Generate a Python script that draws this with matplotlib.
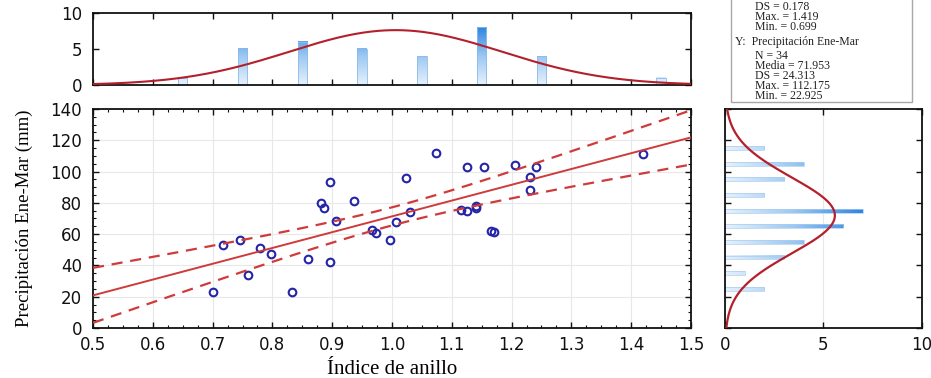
import matplotlib.pyplot as plt
import numpy as np
from matplotlib.colors import LinearSegmentedColormap
from matplotlib.patches import Rectangle
from matplotlib.ticker import MultipleLocator

# Scatter data: ring index vs Jan-Mar precipitation
indice = np.array([0.700, 0.717, 0.746, 0.760, 0.780, 0.797, 0.833, 0.860,
                   0.881, 0.887, 0.896, 0.896, 0.906, 0.937, 0.967, 0.974,
                   0.997, 1.006, 1.023, 1.030, 1.074, 1.116, 1.126, 1.126,
                   1.140, 1.140, 1.154, 1.166, 1.171, 1.205, 1.231, 1.231,
                   1.240, 1.419])
precip = np.array([22.9, 52.9, 56.0, 34.0, 51.4, 47.4, 23.0, 44.2,
                   79.7, 76.5, 93.3, 41.9, 68.7, 81.4, 62.4, 60.7,
                   56.0, 67.9, 95.6, 74.2, 112.1, 75.7, 102.6, 74.9,
                   78.0, 76.5, 102.6, 62.2, 61.5, 104.3, 96.4, 88.4,
                   102.6, 111.2])

# Marginal histograms (bin centres and counts)
x_bins = [0.65, 0.75, 0.85, 0.95, 1.05, 1.15, 1.25, 1.45]
x_counts = [1, 5, 6, 5, 4, 8, 4, 1]
y_bins = [25, 35, 45, 55, 65, 75, 85, 95, 105, 115]
y_counts = [2, 1, 3, 4, 6, 7, 2, 3, 4, 2]

# Summary statistics
n_obs = 34
x_mean, x_sd = 1.006, 0.178
y_mean, y_sd = 71.953, 24.313
stats_x = ["DS = 0.178", "Max. = 1.419", "Min. = 0.699"]
stats_y_title = "Y:  Precipitación Ene-Mar"
stats_y = ["N = 34", "Media = 71.953", "DS = 24.313", "Max. = 112.175", "Min. = 22.925"]

red = "#cf3b3b"
curve_red = "#b3202c"
navy = "#2424a8"
blues = LinearSegmentedColormap.from_list("bl", ["#e6f1fc", "#9cc8f2", "#2f86e0"])
serif = ["Liberation Serif", "DejaVu Serif"]
sans = ["DejaVu Sans"]
plt.rcParams["font.family"] = sans

fig = plt.figure(figsize=(9.31, 3.78), dpi=100)
ax = fig.add_axes([0.0999, 0.1323, 0.6423, 0.5794])
ax_top = fig.add_axes([0.0999, 0.7751, 0.6423, 0.1905])
ax_right = fig.add_axes([0.7787, 0.1323, 0.2116, 0.5794])

# --- main scatter with regression and 95% confidence band
slope, icpt = np.polyfit(indice, precip, 1)
resid = precip - (slope * indice + icpt)
s_err = np.sqrt(np.sum(resid ** 2) / (n_obs - 2))
sxx = np.sum((indice - indice.mean()) ** 2)
xx = np.linspace(0.5, 1.5, 200)
yy = slope * xx + icpt
band = 2.037 * s_err * np.sqrt(1 / n_obs + (xx - indice.mean()) ** 2 / sxx)

ax.plot(indice, precip, "o", mfc="none", mec=navy, ms=5.5, mew=1.5, zorder=3)
ax.plot(xx, yy, color=red, lw=1.4, zorder=4)
ax.plot(xx, yy + band, color=red, lw=1.6, ls=(0, (5, 3.5)), zorder=4)
ax.plot(xx, yy - band, color=red, lw=1.6, ls=(0, (5, 3.5)), zorder=4)

ax.set_xlim(0.5, 1.5)
ax.set_ylim(0, 140)
ax.xaxis.set_major_locator(MultipleLocator(0.1))
ax.xaxis.set_minor_locator(MultipleLocator(0.025))
ax.yaxis.set_major_locator(MultipleLocator(20))
ax.yaxis.set_minor_locator(MultipleLocator(5))
ax.xaxis.set_major_formatter(lambda v, p: f"{v:.1f}")
ax.grid(True, color="#e8e8e8", lw=0.8)
ax.set_axisbelow(True)
ax.set_xlabel("Índice de anillo", family=serif, fontsize=15, labelpad=4)
ax.set_ylabel("Precipitación Ene-Mar (mm)", family=serif, fontsize=13.5, labelpad=12)

# --- top histogram of x
bw = 0.016
for c, h in zip(x_bins, x_counts):
    grad = np.linspace(0, h, 60).reshape(-1, 1)
    ax_top.imshow(grad, extent=[c - bw / 2, c + bw / 2, 0, h], origin="lower",
                  cmap=blues, vmin=0, vmax=8, aspect="auto", zorder=2)
ax_top.bar(x_bins, x_counts, width=bw, fill=False, edgecolor="#8dbbe8", lw=0.6, zorder=2)
gx = np.linspace(0.5, 1.5, 300)
gy = n_obs * 0.1 / (x_sd * np.sqrt(2 * np.pi)) * np.exp(-0.5 * ((gx - x_mean) / x_sd) ** 2)
ax_top.plot(gx, gy, color=curve_red, lw=1.5, zorder=3)
ax_top.set_xlim(0.5, 1.5)
ax_top.set_ylim(0, 10)
ax_top.xaxis.set_major_locator(MultipleLocator(0.1))
ax_top.yaxis.set_major_locator(MultipleLocator(5))
ax_top.tick_params(axis="x", labelbottom=False)

# --- right histogram of y
bh = 2.4
for c, w in zip(y_bins, y_counts):
    grad = np.linspace(0, w, 60).reshape(1, -1)
    ax_right.imshow(grad, extent=[0, w, c - bh / 2, c + bh / 2], origin="lower",
                    cmap=blues, vmin=0, vmax=7, aspect="auto", zorder=2)
ax_right.barh(y_bins, y_counts, height=bh, fill=False, edgecolor="#a9cdf0", lw=0.5, zorder=2)
ry = np.linspace(0, 140, 300)
rx = n_obs * 10 / (y_sd * np.sqrt(2 * np.pi)) * np.exp(-0.5 * ((ry - y_mean) / y_sd) ** 2)
ax_right.plot(rx, ry, color=curve_red, lw=1.6, zorder=3)
ax_right.set_xlim(0, 10)
ax_right.set_ylim(0, 140)
ax_right.xaxis.set_major_locator(MultipleLocator(5))
ax_right.yaxis.set_major_locator(MultipleLocator(20))
ax_right.tick_params(axis="y", labelleft=False)
ax_right.grid(True, axis="x", color="#e8e8e8", lw=0.8)
ax_right.set_axisbelow(True)

for a in (ax, ax_top, ax_right):
    a.tick_params(which="both", direction="in", top=True, right=True,
                  labelsize=12, colors="#111111")
    a.tick_params(which="major", length=4, width=1)
    a.tick_params(which="minor", length=2.2, width=0.8)
    a.tick_params(axis="x", pad=6)
    a.tick_params(axis="y", pad=8)
    for sp in a.spines.values():
        sp.set_linewidth(1.3)
        sp.set_color("#111111")

# --- statistics box (its top lines fall outside the image)
fig.patches.append(Rectangle((731 / 931, 1 - 102 / 378), 181 / 931, 140 / 378,
                             transform=fig.transFigure, facecolor="white",
                             edgecolor="#a8a8a8", lw=1.0))
txt = dict(family=serif, fontsize=8.5, ha="left", va="top", color="#222222",
           linespacing=0.78)
fig.text(755 / 931, 1 - 1 / 378, "\n".join(stats_x), **txt)
fig.text(735 / 931, 1 - 36 / 378, stats_y_title, **txt)
fig.text(755 / 931, 1 - 50 / 378, "\n".join(stats_y), **txt)

fig.savefig("out.png", dpi=100)
